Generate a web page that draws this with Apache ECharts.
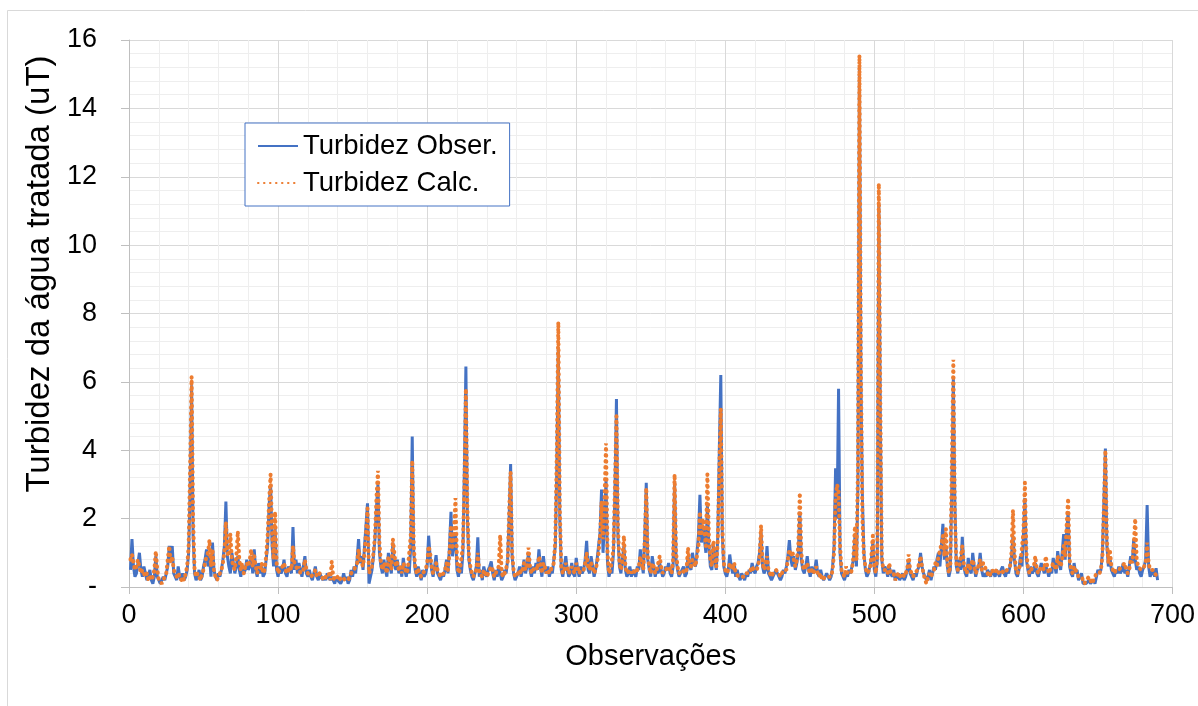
<!DOCTYPE html>
<html>
<head>
<meta charset="utf-8">
<script src="https://cdn.jsdelivr.net/npm/echarts@6/dist/echarts.min.js"></script>
<style>
  html, body { margin: 0; padding: 0; background: #fff; }
  #chart { width: 1198px; height: 706px; }
</style>
</head>
<body>
<div id="chart"></div>
<script>
// Turbidez observada (linha azul), observações 1..690
var turbObs = [
  0.5, 1.4, 0.6, 0.3, 0.4, 0.7, 1.0, 0.5, 0.3, 0.6,
  0.4, 0.2, 0.3, 0.5, 0.2, 0.1, 0.3, 0.9, 0.3, 0.2,
  0.1, 0.2, 0.3, 0.2, 0.4, 0.6, 1.2, 0.8, 1.2, 0.4,
  0.3, 0.2, 0.6, 0.3, 0.2, 0.4, 0.2, 0.3, 0.5, 1.0,
  2.8, 5.9, 1.5, 0.4, 0.2, 0.3, 0.5, 0.2, 0.3, 0.6,
  0.8, 1.1, 0.6, 0.9, 0.3, 1.3, 0.5, 0.3, 0.2, 0.4,
  0.3, 0.5, 0.8, 1.2, 2.5, 0.9, 0.6, 0.4, 1.0, 0.7,
  0.4, 0.6, 0.9, 0.5, 0.3, 0.6, 0.4, 0.5, 0.8, 0.5,
  0.6, 0.9, 0.4, 1.1, 0.5, 0.3, 0.7, 0.4, 0.6, 0.3,
  0.4, 0.8, 1.2, 2.4, 3.0, 1.2, 0.6, 1.7, 0.5, 0.3,
  0.6, 0.4, 0.5, 0.8, 0.4, 0.3, 0.6, 0.5, 0.4, 1.75,
  0.5, 0.8, 0.4, 0.7, 0.5, 0.3, 0.6, 0.9, 0.4, 0.3,
  0.5, 0.3, 0.2, 0.4, 0.6, 0.3, 0.2, 0.4, 0.3, 0.2,
  0.3, 0.2, 0.4, 0.3, 0.2, 0.3, 0.2, 0.1, 0.3, 0.2,
  0.2, 0.1, 0.2, 0.4, 0.2, 0.3, 0.1, 0.2, 0.5, 0.3,
  0.6, 0.4, 0.8, 1.4, 0.7, 0.9, 0.5, 1.2, 1.8, 2.45,
  0.1, 0.3, 0.5, 0.9, 1.4, 2.3, 3.0, 1.0, 0.6, 0.4,
  0.8, 0.5, 0.3, 1.0, 0.6, 0.4, 1.3, 0.7, 0.5, 0.8,
  0.4, 0.6, 0.3, 0.85, 0.5, 0.3, 0.6, 0.4, 1.2, 4.4,
  1.0, 0.5, 0.3, 0.6, 0.4, 0.2, 0.5, 0.3, 0.4, 0.6,
  1.5, 0.9, 0.5, 0.3, 0.6, 0.93, 0.4, 0.3, 0.2, 0.4,
  0.3, 0.5, 0.8, 0.4, 1.2, 2.2, 0.9, 1.3, 1.6, 0.5,
  0.3, 0.6, 0.4, 1.0, 3.5, 6.45, 2.0, 0.8, 0.5, 0.3,
  0.2, 0.4, 0.6, 1.45, 0.3, 0.5, 0.2, 0.6, 0.4, 0.3,
  0.5, 0.6, 0.75, 0.4, 0.2, 0.5, 0.3, 0.6, 0.4, 0.2,
  0.3, 0.5, 0.4, 0.8, 2.0, 3.6, 0.9, 0.4, 0.2, 0.3,
  0.4, 0.6, 0.3, 0.5, 0.8, 0.4, 0.6, 1.0, 0.5, 0.3,
  0.6, 0.4, 0.7, 0.5, 1.1, 0.6, 0.3, 0.9, 0.5, 0.4,
  0.6, 0.3, 0.5, 0.4, 0.8, 1.2, 3.5, 7.0, 2.0, 0.5,
  0.3, 0.6, 0.9, 0.5, 0.3, 0.4, 0.7, 0.4, 0.3, 0.85,
  0.5, 0.3, 0.6, 0.4, 0.5, 0.8, 1.35, 0.5, 0.4, 0.9,
  0.6, 0.3, 0.5, 0.8, 1.2, 1.6, 2.85, 1.0, 2.0, 3.1,
  0.7, 0.3, 0.5, 0.4, 1.0, 2.8, 5.5, 1.5, 0.6, 0.4,
  0.8, 1.2, 0.5, 0.3, 0.4, 0.6, 0.3, 0.5, 0.4, 0.3,
  0.6, 0.5, 1.1, 0.7, 0.4, 1.5, 3.05, 0.8, 0.5, 0.3,
  0.9, 0.6, 0.3, 0.5, 0.4, 0.7, 0.5, 0.3, 0.4, 0.6,
  0.5, 0.7, 0.4, 0.3, 0.6, 3.1, 0.8, 0.5, 0.3, 0.4,
  0.5, 0.6, 0.3, 0.4, 0.9, 0.6, 0.5, 1.0, 0.7, 0.6,
  1.0, 1.5, 2.7, 1.3, 1.8, 1.4, 1.0, 2.4, 1.2, 0.6,
  0.5, 1.2, 0.8, 0.5, 1.5, 4.0, 6.2, 1.5, 0.6, 0.4,
  0.3, 0.5, 0.95, 0.6, 0.4, 0.7, 0.3, 0.5, 0.3, 0.2,
  0.4, 0.3, 0.2, 0.4, 0.3, 0.5, 0.4, 0.7, 0.5, 0.4,
  0.6, 0.7, 1.0, 1.6, 0.6, 0.4, 0.5, 1.2, 0.4, 0.3,
  0.2, 0.3, 0.4, 0.5, 0.4, 0.3, 0.2, 0.3, 0.5, 0.4,
  0.6, 0.9, 1.37, 0.8, 0.6, 0.9, 0.5, 0.7, 1.0, 2.2,
  0.8, 0.5, 0.4, 0.6, 0.9, 0.5, 0.3, 0.6, 0.4, 0.5,
  0.8, 0.4, 0.3, 0.5, 0.3, 0.2, 0.3, 0.4, 0.3, 0.2,
  0.3, 0.6, 1.2, 3.47, 2.0, 5.8, 1.0, 0.4, 0.3, 0.2,
  0.4, 0.3, 0.5, 0.4, 0.6, 0.8, 1.5, 0.6, 3.0, 15.2,
  6.0, 2.6, 1.0, 0.5, 0.3, 0.4, 0.6, 0.8, 1.3, 0.5,
  0.3, 0.8, 11.2, 5.0, 0.8, 0.4, 0.6, 0.5, 0.3, 0.6,
  0.4, 0.3, 0.5, 0.2, 0.3, 0.4, 0.2, 0.3, 0.4, 0.2,
  0.3, 0.5, 0.8, 0.4, 0.3, 0.2, 0.4, 0.3, 0.5, 0.6,
  1.0, 0.6, 0.4, 0.3, 0.2, 0.3, 0.5, 0.2, 0.4, 0.6,
  0.5, 0.8, 1.0, 0.6, 1.2, 1.85, 0.8, 1.2, 0.6, 0.3,
  0.5, 3.0, 6.1, 2.5, 0.6, 0.4, 0.8, 0.5, 1.47, 0.6,
  0.4, 0.3, 0.85, 0.5, 0.4, 1.0, 0.6, 0.3, 0.5, 0.6,
  1.0, 0.5, 0.3, 0.4, 0.3, 0.5, 0.4, 0.3, 0.5, 0.4,
  0.3, 0.5, 0.4, 0.3, 0.5, 0.6, 0.4, 0.3, 0.5, 0.4,
  0.6, 0.9, 1.5, 0.8, 0.4, 0.3, 0.5, 0.9, 0.6, 1.5,
  2.6, 0.8, 0.5, 0.3, 0.6, 0.4, 0.5, 0.7, 0.4, 0.3,
  0.5, 0.7, 0.75, 0.4, 0.6, 0.5, 0.3, 0.5, 0.4, 0.85,
  0.6, 0.4, 1.05, 0.7, 0.5, 1.0, 1.55, 0.8, 1.6, 2.2,
  0.6, 0.4, 0.3, 0.7, 0.4, 0.5, 0.2, 0.3, 0.4, 0.1,
  0.1, 0.1, 0.1, 0.2, 0.1, 0.1, 0.2, 0.1, 0.3, 0.5,
  0.4, 0.5, 1.0, 2.5, 4.05, 1.2, 0.6, 0.9, 0.5, 0.4,
  0.3, 0.5, 0.4, 0.6, 0.4, 0.5, 0.7, 0.4, 0.5, 0.3,
  0.6, 0.9, 0.7, 1.4, 0.8, 0.5, 0.6, 0.4, 0.3, 0.5,
  0.6, 0.8, 2.4, 0.6, 0.3, 0.4, 0.5, 0.3, 0.55, 0.2
];

// Turbidez calculada (linha laranja pontilhada)
var turbCalc = [
  0.8, 0.95, 0.7, 0.5, 0.6, 0.8, 0.6, 0.4, 0.5, 0.4,
  0.3, 0.4, 0.2, 0.3, 0.2, 0.3, 0.5, 1.05, 0.5, 0.2,
  0.2, 0.1, 0.2, 0.3, 0.4, 0.8, 1.2, 0.7, 0.9, 0.5,
  0.4, 0.3, 0.4, 0.3, 0.2, 0.3, 0.2, 0.4, 0.6, 1.2,
  3.5, 6.15, 2.0, 0.5, 0.3, 0.4, 0.3, 0.2, 0.4, 0.5,
  0.7, 0.9, 1.0, 1.38, 0.6, 1.1, 0.5, 0.3, 0.2, 0.3,
  0.4, 0.5, 0.7, 1.0, 1.9, 1.0, 0.9, 1.55, 0.8, 0.6,
  0.5, 0.9, 1.63, 0.8, 0.5, 0.7, 0.4, 0.6, 0.7, 0.6,
  0.8, 1.1, 0.6, 0.9, 0.6, 0.4, 0.6, 0.5, 0.7, 0.4,
  0.5, 0.9, 1.5, 2.5, 3.3, 1.5, 0.8, 2.2, 0.7, 0.4,
  0.5, 0.5, 0.6, 0.7, 0.5, 0.4, 0.5, 0.6, 0.5, 1.2,
  0.7, 0.6, 0.5, 0.6, 0.4, 0.4, 0.5, 0.8, 0.5, 0.4,
  0.4, 0.3, 0.3, 0.4, 0.5, 0.3, 0.3, 0.4, 0.3, 0.3,
  0.2, 0.3, 0.3, 0.4, 0.2, 0.75, 0.3, 0.2, 0.2, 0.3,
  0.2, 0.2, 0.3, 0.3, 0.2, 0.2, 0.2, 0.3, 0.4, 0.4,
  0.5, 0.5, 0.7, 1.1, 0.8, 0.8, 0.6, 1.0, 1.6, 2.3,
  0.4, 0.4, 0.6, 1.0, 1.5, 2.6, 3.4, 1.3, 0.7, 0.5,
  0.7, 0.6, 0.4, 0.9, 0.7, 0.5, 1.4, 1.4, 0.6, 0.7,
  0.5, 0.6, 0.4, 0.7, 0.6, 0.4, 0.5, 0.5, 1.5, 3.7,
  1.2, 0.6, 0.4, 0.5, 0.5, 0.3, 0.4, 0.4, 0.5, 0.7,
  1.2, 1.0, 0.6, 0.4, 0.5, 0.7, 0.5, 0.4, 0.3, 0.3,
  0.4, 0.5, 0.7, 0.5, 1.0, 1.8, 1.1, 1.6, 2.6, 0.8,
  0.4, 0.5, 0.5, 1.2, 3.0, 5.8, 2.3, 0.9, 0.6, 0.4,
  0.3, 0.4, 0.5, 1.0, 0.4, 0.4, 0.3, 0.5, 0.4, 0.3,
  0.4, 0.5, 0.6, 0.5, 0.3, 0.4, 0.4, 0.6, 1.52, 0.4,
  0.3, 0.4, 0.4, 0.7, 2.2, 3.35, 1.0, 0.5, 0.3, 0.3,
  0.4, 0.5, 0.4, 0.5, 0.7, 0.5, 0.6, 1.15, 0.6, 0.4,
  0.5, 0.5, 0.6, 0.5, 0.9, 0.7, 0.4, 0.7, 0.6, 0.4,
  0.5, 0.4, 0.5, 0.5, 0.7, 1.4, 4.0, 7.75, 2.3, 0.6,
  0.4, 0.5, 0.7, 0.6, 0.4, 0.4, 0.6, 0.5, 0.4, 0.7,
  0.6, 0.4, 0.5, 0.5, 0.5, 0.7, 1.0, 0.6, 0.5, 0.7,
  0.6, 0.4, 0.5, 0.7, 1.0, 1.5, 2.5, 1.4, 2.6, 4.2,
  1.0, 0.4, 0.5, 0.5, 1.1, 3.0, 5.0, 1.8, 0.7, 0.5,
  0.8, 1.5, 0.6, 0.4, 0.4, 0.5, 0.4, 0.5, 0.5, 0.4,
  0.5, 0.6, 0.9, 0.7, 0.5, 1.4, 2.9, 0.9, 0.6, 0.4,
  0.7, 0.6, 0.4, 0.5, 0.5, 0.9, 0.6, 0.4, 0.4, 0.5,
  0.5, 0.6, 0.5, 0.4, 0.8, 3.3, 1.0, 0.6, 0.4, 0.4,
  0.5, 0.5, 0.4, 0.5, 1.15, 0.7, 0.6, 0.8, 0.7, 0.6,
  0.9, 1.2, 2.2, 1.5, 2.0, 1.6, 1.2, 3.3, 1.5, 0.8,
  0.6, 1.35, 0.9, 0.6, 1.4, 3.5, 5.2, 1.8, 0.7, 0.5,
  0.4, 0.5, 0.7, 0.7, 0.5, 0.7, 0.4, 0.4, 0.3, 0.3,
  0.3, 0.3, 0.3, 0.4, 0.4, 0.4, 0.5, 0.6, 0.5, 0.5,
  0.5, 0.6, 0.9, 1.8, 0.7, 0.5, 0.5, 0.9, 0.5, 0.4,
  0.3, 0.4, 0.4, 0.5, 0.55, 0.4, 0.3, 0.4, 0.5, 0.5,
  0.5, 0.8, 1.1, 0.9, 1.05, 0.8, 0.6, 0.8, 1.2, 2.76,
  1.0, 0.6, 0.5, 0.6, 0.7, 0.5, 0.4, 0.5, 0.4, 0.5,
  0.6, 0.4, 0.3, 0.4, 0.2, 0.2, 0.3, 0.3, 0.3, 0.3,
  0.3, 0.5, 1.0, 2.6, 3.0, 2.8, 1.2, 0.5, 0.4, 0.3,
  0.6, 0.4, 0.4, 0.4, 0.5, 0.9, 1.78, 0.8, 3.5, 15.55,
  6.5, 2.0, 0.9, 0.6, 0.4, 0.4, 0.5, 0.9, 1.5, 0.6,
  0.4, 0.9, 11.8, 5.5, 0.9, 0.5, 0.5, 0.5, 0.4, 0.7,
  0.4, 0.4, 0.4, 0.2, 0.3, 0.4, 0.3, 0.3, 0.4, 0.3,
  0.4, 0.5, 0.95, 0.5, 0.4, 0.3, 0.4, 0.4, 0.5, 0.5,
  0.9, 0.6, 0.4, 0.2, 0.1, 0.3, 0.4, 0.3, 0.4, 0.5,
  0.7, 0.6, 0.9, 1.05, 1.1, 1.5, 0.9, 1.7, 0.7, 0.4,
  0.6, 3.5, 6.65, 2.2, 0.7, 0.5, 0.6, 0.6, 1.2, 0.7,
  0.5, 0.4, 0.7, 0.5, 0.5, 0.8, 0.6, 0.4, 0.5, 0.5,
  0.8, 0.5, 0.7, 0.7, 0.5, 0.5, 0.3, 0.4, 0.5, 0.4,
  0.4, 0.5, 0.4, 0.4, 0.5, 0.5, 0.4, 0.4, 0.5, 0.5,
  0.6, 1.0, 2.25, 1.0, 0.5, 0.4, 0.5, 0.7, 0.7, 1.6,
  3.05, 1.0, 0.6, 0.4, 0.5, 0.5, 0.6, 0.9, 0.5, 0.4,
  0.5, 0.6, 0.6, 0.5, 0.9, 0.6, 0.4, 0.5, 0.5, 0.7,
  0.6, 0.5, 0.9, 0.7, 0.6, 0.8, 1.2, 0.9, 1.8, 2.6,
  0.8, 0.5, 0.4, 0.6, 0.5, 0.4, 0.3, 0.3, 0.3, 0.2,
  0.1, 0.2, 0.2, 0.3, 0.2, 0.1, 0.2, 0.3, 0.4, 0.4,
  0.4, 0.5, 0.9, 2.4, 4.0, 1.4, 0.7, 1.1, 0.6, 0.5,
  0.4, 0.5, 0.5, 0.5, 0.5, 0.6, 0.6, 0.7, 0.5, 0.4,
  0.5, 0.8, 0.7, 1.2, 2.0, 0.8, 0.6, 0.6, 0.5, 0.5,
  0.6, 0.7, 1.3, 0.7, 0.5, 0.5, 0.5, 0.4, 0.4, 0.3
];

var xTicks = [0, 100, 200, 300, 400, 500, 600, 700];
var yTicks = [0, 2, 4, 6, 8, 10, 12, 14, 16];

var font = 'Liberation Sans, Arial, sans-serif';

var myChart = echarts.init(document.getElementById('chart'));

var option = {
    animation: false,
    backgroundColor: '#fff',
    grid: {
        left: 129,
        right: 23,
        top: 40,
        bottom: 119
    },
    legend: {
        orient: 'vertical',
        left: 245,
        top: 123,
        backgroundColor: '#fff',
        borderColor: '#4472C4',
        borderWidth: 1,
        borderRadius: 0,
        padding: [9, 12, 9, 12],
        itemGap: 9,
        itemWidth: 40,
        itemHeight: 14,
        // hide the circle that line series add to their legend icon
        itemStyle: { color: 'rgba(0,0,0,0)', borderWidth: 0 },
        textStyle: { fontSize: 27.5, fontFamily: font, color: '#000' },
        data: ['Turbidez Obser.', 'Turbidez Calc.']
    },
    xAxis: {
        type: 'value',
        min: xTicks[0],
        max: xTicks[xTicks.length - 1],
        interval: 100,
        name: 'Observações',
        nameLocation: 'middle',
        nameGap: 55,
        nameTextStyle: { fontSize: 29, fontFamily: font, color: '#000' },
        axisLine: { show: true, lineStyle: { color: '#BFBFBF', width: 1 } },
        axisTick: { show: true, length: 7, lineStyle: { color: '#BFBFBF' } },
        axisLabel: { margin: 15, fontSize: 27, fontFamily: font, color: '#000' },
        splitLine: { show: true, lineStyle: { color: '#D9D9D9', width: 1 } },
        minorTick: { show: false, splitNumber: 5 },
        minorSplitLine: { show: true, lineStyle: { color: '#EEEEEE', width: 1 } }
    },
    yAxis: {
        type: 'value',
        min: yTicks[0],
        max: yTicks[yTicks.length - 1],
        interval: 2,
        axisLine: { show: true, lineStyle: { color: '#BFBFBF', width: 1 } },
        axisTick: { show: true, length: 8, lineStyle: { color: '#BFBFBF' } },
        axisLabel: {
            margin: 32,
            fontSize: 27,
            fontFamily: font,
            color: '#000',
            formatter: function (v) { return v === 0 ? '-' : String(v); }
        },
        splitLine: { show: true, lineStyle: { color: '#D9D9D9', width: 1 } },
        minorTick: { show: false, splitNumber: 5 },
        minorSplitLine: { show: true, lineStyle: { color: '#EEEEEE', width: 1 } }
    },
    graphic: [
        {
            type: 'rect',
            left: 5,
            top: 8,
            shape: { width: 1250, height: 760 },
            style: { fill: 'none', stroke: '#D9D9D9', lineWidth: 1 },
            silent: true,
            z: -10
        },
        {
            type: 'text',
            x: 40,
            y: 274,
            rotation: Math.PI / 2,
            style: {
                text: 'Turbidez da água tratada (uT)',
                fontSize: 33,
                fontFamily: font,
                fill: '#000',
                textAlign: 'center',
                textVerticalAlign: 'middle'
            }
        }
    ],
    series: [
        {
            name: 'Turbidez Obser.',
            type: 'line',
            symbol: 'none',
            showSymbol: false,
            lineStyle: { color: '#4472C4', width: 3 },
            itemStyle: { color: '#4472C4' },
            data: turbObs.map(function (v, i) { return [i + 1, v]; })
        },
        {
            name: 'Turbidez Calc.',
            type: 'line',
            symbol: 'none',
            showSymbol: false,
            lineStyle: { color: '#ED7D31', width: 4, type: [0.5, 5.5], cap: 'round' },
            itemStyle: { color: '#ED7D31' },
            data: turbCalc.map(function (v, i) { return [i + 1, v]; })
        }
    ]
};

myChart.setOption(option);
</script>
</body>
</html>
